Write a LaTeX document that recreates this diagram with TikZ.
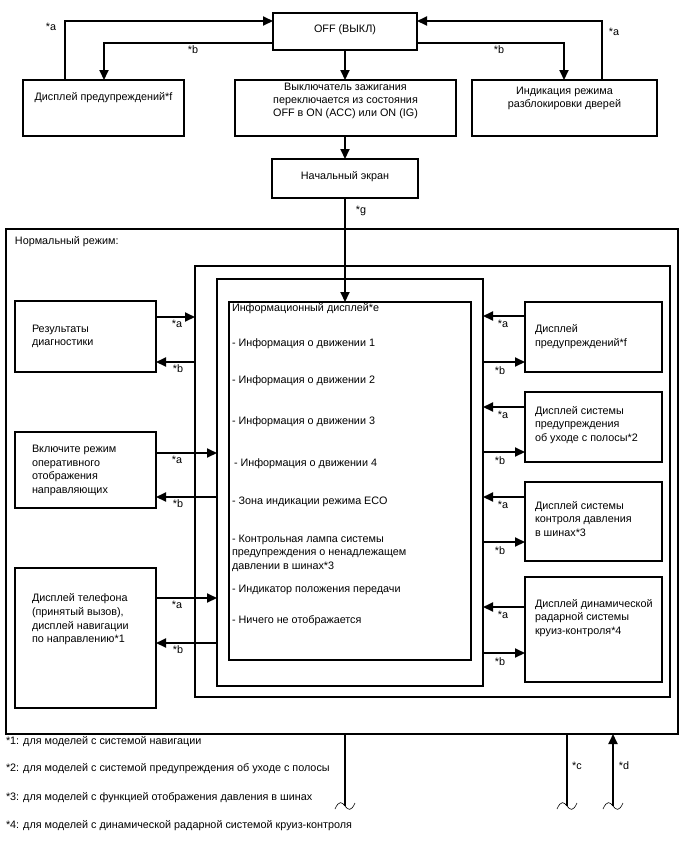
\documentclass[tikz,border=0pt]{standalone}
\usepackage{fontspec}
\setmainfont{Liberation Sans}
\usepackage{tikz}
\usetikzlibrary{positioning,arrows.meta}
\tikzset{
  every node/.style={minimum size=0pt, inner sep=0pt, outer sep=0pt}
}

\begin{document}
\begin{tikzpicture}[x=1pt, y=-1pt]
\tikzstyle{boxStyle}=[draw, line width=1.2pt]
\tikzstyle{txtStyle}=[font=\fontsize{10.8}{13.6}\selectfont, align=left]
\tikzstyle{midStyle}=[font=\fontsize{10.8}{12.8}\selectfont, align=center]
\tikzstyle{lblStyle}=[font=\fontsize{10.8}{12}\selectfont]
\tikzstyle{arrStyle}=[line width=2pt, -{Triangle[length=10pt,width=9pt]}]
\tikzstyle{lineStyle}=[line width=2pt]

\useasboundingbox (0,0) rectangle (688,852);

% top row
\node[boxStyle, minimum width=144, minimum height=37] (off) at (345,31.5) {};
\node[boxStyle, minimum width=161, minimum height=56] (warnTop) at (103.5,108) {};
\node[boxStyle, minimum width=221, minimum height=56] (ignTop) at (345.5,108) {};
\node[boxStyle, minimum width=185, minimum height=56] (lockTop) at (564.5,108) {};
\node[boxStyle, minimum width=146, minimum height=39] (home) at (345,178.5) {};

\node[midStyle] (tOff) at (345,30) {OFF (ВЫКЛ)};
\node[midStyle] (tWarnTop) at (103.5,98) {Дисплей предупреждений*f};
\node[midStyle] (tIgn) at (345.5,101) {Выключатель зажигания\\переключается из состояния\\OFF в ON (ACC) или ON (IG)};
\node[midStyle] (tLock) at (564.5,98.5) {Индикация режима\\разблокировки дверей};
\node[midStyle] (tHome) at (345,177) {Начальный экран};

\draw[arrStyle] (warnTop.north -| 65,0) |- (off.west |- 0,21);
\draw[arrStyle] (off.west |- 0,43) -| (warnTop.north -| 104,0);
\draw[arrStyle] (lockTop.north -| 602,0) |- (off.east |- 0,21);
\draw[arrStyle] (off.east |- 0,43) -| (lockTop.north -| 564,0);
\draw[arrStyle] (off) -- (off |- ignTop.north);
\draw[arrStyle] (ignTop.south -| home) -- (home.north);

\node[lblStyle] (la1) at (51,27) {*a};
\node[lblStyle] (lb1) at (193,50) {*b};
\node[lblStyle] (lb2) at (499,50) {*b};
\node[lblStyle] (la2) at (614,32) {*a};
\node[lblStyle] (lg) at (361,211) {*g};

% normal mode frames
\node[boxStyle, minimum width=672, minimum height=505] (normal) at (342,481.5) {};
\node[boxStyle, minimum width=475, minimum height=431] (frameA) at (432.5,481.5) {};
\node[boxStyle, minimum width=266, minimum height=407] (frameB) at (350,482.5) {};
\node[boxStyle, minimum width=242, minimum height=358] (info) at (350,481) {};
\node[txtStyle, anchor=west] (tNormal) at (15,242) {Нормальный режим:};

\draw[arrStyle] (home.south) -- (home.south |- info.north);

% info display
\node[txtStyle, anchor=west] (tInfo) at (232,309) {Информационный дисплей*e};
\foreach \y/\t [count=\k] in {344/{- Информация о движении 1},
  381/{- Информация о движении 2}, 422/{- Информация о движении 3},
  464/{\hspace{2pt}- Информация о движении 4}, 502/{- Зона индикации режима ECO},
  553/{- Контрольная лампа системы\\предупреждения о ненадлежащем\\давлении в шинах*3},
  590/{- Индикатор положения передачи}, 621/{- Ничего не отображается}}
{
  \node[txtStyle, anchor=west] (item\k) at (232,\y) {\t};
}

% left side
\node[boxStyle, minimum width=141, minimum height=71] (diag) at (85.5,336.5) {};
\node[boxStyle, minimum width=141, minimum height=76] (guide) at (85.5,470) {};
\node[boxStyle, minimum width=141, minimum height=140] (phone) at (85.5,638) {};
\node[txtStyle, anchor=west] (tDiag) at (32,336.5) {Результаты\\диагностики};
\node[txtStyle, anchor=west] (tGuide) at (32,470.5) {Включите режим\\оперативного\\отображения\\направляющих};
\node[txtStyle, anchor=west] (tPhone) at (32,619.5) {Дисплей телефона\\(принятый вызов),\\дисплей навигации\\по направлению*1};

\foreach \b/\f/\ya/\yb in {diag/frameA/317/362, guide/frameB/453/497, phone/frameB/598/643}
{
  \draw[arrStyle] (\b.east |- 0,\ya) -- (\f.west |- 0,\ya);
  \draw[arrStyle] (\f.west |- 0,\yb) -- (\b.east |- 0,\yb);
  \node[lblStyle] (a\b) at (177,\ya+7) {*a};
  \node[lblStyle] (b\b) at (178,\yb+7) {*b};
}

% right side
\node[boxStyle, minimum width=137, minimum height=70] (rWarn) at (593.5,337) {};
\node[boxStyle, minimum width=137, minimum height=70] (rLane) at (593.5,427) {};
\node[boxStyle, minimum width=137, minimum height=79] (rTire) at (593.5,521.5) {};
\node[boxStyle, minimum width=137, minimum height=105] (rAcc) at (593.5,629.5) {};
\node[txtStyle, anchor=west] (tRWarn) at (535,336.5) {Дисплей\\предупреждений*f};
\node[txtStyle, anchor=west] (tRLane) at (535,425) {Дисплей системы\\предупреждения\\об уходе с полосы*2};
\node[txtStyle, anchor=west] (tRTire) at (535,519) {Дисплей системы\\контроля давления\\в шинах*3};
\node[txtStyle, anchor=west] (tRAcc) at (535,618) {Дисплей динамической\\радарной системы\\круиз-контроля*4};

\foreach \b/\ya/\yb in {rWarn/316/362, rLane/407/452, rTire/497/542, rAcc/607/653}
{
  \draw[arrStyle] (\b.west |- 0,\ya) -- (frameB.east |- 0,\ya);
  \draw[arrStyle] (frameB.east |- 0,\yb) -- (\b.west |- 0,\yb);
  \node[lblStyle] (a\b) at (503,\ya+8) {*a};
  \node[lblStyle] (b\b) at (500,\yb+9) {*b};
}

% cut lines below
\foreach \x/\n in {345/cutA, 567/cutC, 613/cutD}
{
  \coordinate (\n) at (\x,806);
  \draw[semithick] (\x-10,809) .. controls (\x-6,800) and (\x-3,802) .. (\n)
    .. controls (\x+3,810) and (\x+6,812) .. (\x+10,803);
}
\draw[lineStyle] (normal.south -| cutA) -- (cutA);
\draw[lineStyle] (normal.south -| cutC) -- (cutC);
\draw[arrStyle] (cutD) -- (normal.south -| cutD);
\node[lblStyle] (lc) at (577,766) {*c};
\node[lblStyle] (ld) at (624,766) {*d};

% footnotes
\node[txtStyle, anchor=west] (fn1) at (6,742) {*1: для моделей с системой навигации};
\node[txtStyle, anchor=west] (fn2) at (6,769) {*2: для моделей с системой предупреждения об уходе с полосы};
\node[txtStyle, anchor=west] (fn3) at (6,798) {*3: для моделей с функцией отображения давления в шинах};
\node[txtStyle, anchor=west] (fn4) at (6,826) {*4: для моделей с динамической радарной системой круиз-контроля};
\end{tikzpicture}
\end{document}
